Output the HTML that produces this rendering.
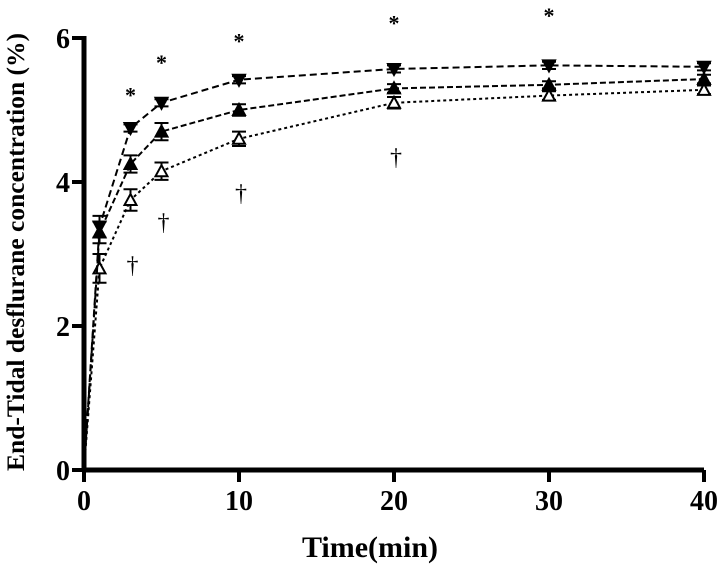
<!DOCTYPE html>
<html><head><meta charset="utf-8"><style>
body{margin:0;background:#fff}
svg{display:block;font-family:"Liberation Serif",serif;font-weight:bold}
</style></head><body>
<svg id="c" width="718" height="565">
<text x="370" y="557" text-anchor="middle" font-size="30">Time(min)</text>
<text transform="translate(24,252) rotate(-90)" text-anchor="middle" font-size="25.5">End-Tidal desflurane concentration (%)</text>
</svg>
<script>
const times=[0,1,3,5,10,20,30,40];
const seriesDown=[0,3.38,4.75,5.1,5.42,5.57,5.62,5.6];
const seriesUp=[0,3.3,4.25,4.7,5.0,5.3,5.35,5.43];
const seriesOpen=[0,2.8,3.75,4.15,4.6,5.1,5.2,5.28];
const errDown=[0,0.15,0.05,0.05,0.05,0.05,0.05,0.05];
const errUp=[0,0.15,0.12,0.12,0.08,0.06,0.05,0.06];
const errOpen=[0,0.2,0.15,0.12,0.1,0.08,0.06,0.06];
const xTicks=[0,10,20,30,40];
const yTicks=[0,2,4,6];
const starTimes=[3,5,10,20,30];
const starVals=[5.3,5.75,6.05,6.3,6.4];
const daggerTimes=[3,5,10,20];
const daggerVals=[2.9,3.5,3.9,4.4];
const X=t=>84+t*15.5, Y=v=>470-v*72;
const s=document.getElementById('c'),NS='http://www.w3.org/2000/svg';
function el(tag,a,txt){const e=document.createElementNS(NS,tag);for(const k in a)e.setAttribute(k,a[k]);if(txt!=null)e.textContent=txt;s.appendChild(e);return e;}
let e=el('line',{x1:X(0),y1:Y(0),x2:X(40),y2:Y(0),stroke:'#000','stroke-width':5});


e=el('line',{x1:X(0),y1:Y(0)+2,x2:X(0),y2:Y(6)-2,stroke:'#000','stroke-width':5});


xTicks.forEach(t=>{el('line',{x1:X(t),y1:Y(0),x2:X(t),y2:Y(0)+12,stroke:'#000','stroke-width':4});
const tx=el('text',{x:X(t),y:Y(0)+40,'text-anchor':'middle','font-size':28},t);

});
yTicks.forEach(v=>{el('line',{x1:X(0)-12,y1:Y(v),x2:X(0),y2:Y(v),stroke:'#000','stroke-width':4});
const tx=el('text',{x:X(0)-14,y:Y(v)+10,'text-anchor':'end','font-size':28},v);

});
function series(vals,errs,dash,marker,name){
const p=el('polyline',{points:times.map((t,i)=>X(t)+','+Y(vals[i])).join(' '),fill:'none',stroke:'#000','stroke-width':2,'stroke-dasharray':dash});


times.forEach((t,i)=>{if(i===0)return;const x=X(t),y=Y(vals[i]);const eh=errs[i]*72;
el('path',{d:`M${x},${y-eh}V${y+eh}M${x-7},${y-eh}H${x+7}M${x-7},${y+eh}H${x+7}`,stroke:'#000','stroke-width':2,fill:'none'});
let d;if(marker==='down')d=`M${x-6},${y-5}H${x+6}L${x},${y+6}Z`;else d=`M${x-6},${y+5}H${x+6}L${x},${y-6}Z`;
const m=el('path',{d,fill:marker==='open'?'#fff':'#000',stroke:'#000','stroke-width':2});

});}
series(seriesOpen,errOpen,'3,3','open','series-open-triangle');
series(seriesUp,errUp,'6,3','up','series-filled-up-triangle');
series(seriesDown,errDown,'7,4','down','series-filled-down-triangle');
starTimes.forEach((t,i)=>{const a=el('text',{x:X(t),y:Y(starVals[i])+14,'text-anchor':'middle','font-size':22},'*');

});
daggerTimes.forEach((t,i)=>{const a=el('text',{x:X(t)+2,y:Y(daggerVals[i])+12,'text-anchor':'middle','font-size':24,'font-weight':'normal'},'†');

});
</script>
</body></html>
